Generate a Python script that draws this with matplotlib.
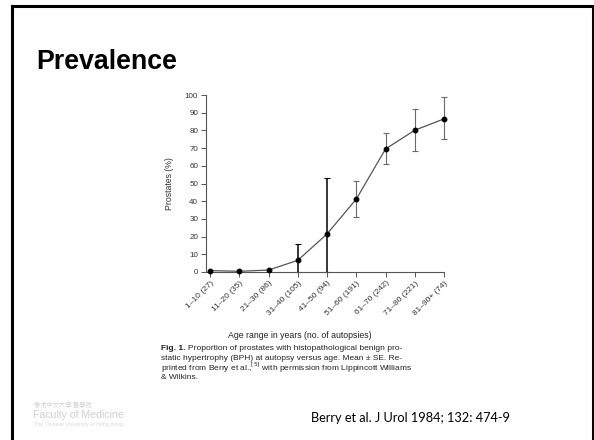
import matplotlib
matplotlib.use("Agg")
import matplotlib.pyplot as plt
import numpy as np

# values
age_groups = ["1\u201310 (27)", "11\u201320 (35)", "21\u201330 (86)", "31\u201340 (105)",
              "41\u201350 (94)", "51\u201360 (191)", "61\u201370 (242)", "71\u201380 (221)",
              "81\u201390+ (74)"]
prevalence = [0.8, 0.4, 1.1, 6.6, 21.5, 41.2, 69.5, 80.1, 86.5]
# error bar ends (nan = no bar)
err_high = [np.nan, np.nan, np.nan, 16, 53, 51.5, 78.5, 92, 99]
err_low = [np.nan, np.nan, np.nan, 0, 0, 31, 61, 68.4, 75]
dark_bars = [3, 4]      # drawn black, reaching the axis
grey_bars = [5, 6, 7, 8]

caption_first = "Proportion of prostates with histopathological benign pro-"
caption = [
    "static hypertrophy (BPH) at autopsy versus age. Mean \u00b1 SE. Re-",
    "printed from Berry et al.,$^{[5]}$ with permission from Lippincott Williams",
    "& Wilkins.",
]

fig = plt.figure(figsize=(5.94, 4.40), dpi=100)
fig.patch.set_facecolor("white")

# slide frame
fig.add_artist(plt.Line2D([12/594, 12/594], [0, 1 - 6/440], color="black", lw=2.2, transform=fig.transFigure))
fig.add_artist(plt.Line2D([12/594, 593/594], [1 - 6/440, 1 - 6/440], color="black", lw=2.2, transform=fig.transFigure))
fig.add_artist(plt.Line2D([593/594, 593/594], [0, 1 - 6/440], color="black", lw=2.2, transform=fig.transFigure))

fig.text(36/594, 1 - 62/440, "Prevalence", fontsize=19.3, fontweight="bold",
         family="Liberation Sans", va="center", ha="left")

ax = fig.add_axes([205.7/594, 168/440, 238.3/594, 177/440])
x = np.arange(len(prevalence))
vals = np.array(prevalence)
hi = np.array(err_high)
lo = np.array(err_low)

for idx, col, lw in [(dark_bars, "black", 1.1), (grey_bars, "#6a6a6a", 0.8)]:
    idx = np.array(idx)
    eb = ax.errorbar(x[idx], vals[idx], yerr=[vals[idx] - lo[idx], hi[idx] - vals[idx]],
                     fmt="none", ecolor=col, elinewidth=lw, capsize=2.5, capthick=0.8)
    for art in eb.lines[1] + eb.lines[2]:
        art.set_clip_on(False)

ax.plot(x, prevalence, color="#555555", lw=0.9, marker="o", markersize=3.2,
        markerfacecolor="black", markeredgecolor="black", zorder=3, clip_on=False)

ax.set_xlim(-0.15, 8.0)
ax.set_ylim(0, 100)
ax.set_yticks(range(0, 101, 10))
ax.set_xticks(x)
ax.set_xticklabels(age_groups, rotation=45, ha="right", rotation_mode="anchor",
                   fontsize=6.0, color="#333333", family="Liberation Sans")
for lab in ax.get_yticklabels():
    lab.set_fontsize(5.8)
    lab.set_color("#333333")
    lab.set_family("Liberation Sans")
ax.tick_params(axis="both", length=3.5, width=0.7, color="#555555", pad=2)
ax.spines["top"].set_visible(False)
ax.spines["right"].set_visible(False)
for s in ["left", "bottom"]:
    ax.spines[s].set_color("#555555")
    ax.spines[s].set_linewidth(0.8)
ax.set_ylabel("Prostates (%)", fontsize=6.3, color="#333333", family="Liberation Sans", labelpad=8)

fig.text(300/594, 1 - 335/440, "Age range in years (no. of autopsies)", fontsize=6.3,
         color="#222222", family="Liberation Sans", ha="center", va="center")

fig_lbl = fig.text(161/594, 1 - 348/440, "Fig. 1.", fontsize=6.0, fontweight="bold",
                   color="#222222", family="Liberation Sans", ha="left", va="center")
fig.canvas.draw()
bb = fig_lbl.get_window_extent().transformed(fig.transFigure.inverted())
fig.text(bb.x1 + 3/594, 1 - 348/440, caption_first, fontsize=6.0, color="#222222",
         family="Liberation Sans", ha="left", va="center")
for i, line in enumerate(caption):
    fig.text(161/594, 1 - (358.5 + 9.7 * i)/440, line, fontsize=6.0, color="#222222",
             family="Liberation Sans", ha="left", va="center")

fig.text(311/594, 1 - 418/440, "Berry et al. J Urol 1984; 132: 474-9", fontsize=9.2,
         family="Lato", ha="left", va="center", color="black")

# faculty logo, very faint
fig.text(34/594, 1 - 405/440, "\u9999\u6e2f\u4e2d\u6587\u5927\u5b78 \u91ab\u5b78\u9662",
         fontsize=4.5, family=["Noto Sans CJK TC", "DejaVu Sans"], color="#d4d4d4", va="center")
fig.text(33/594, 1 - 415/440, "Faculty of Medicine", fontsize=7.6, family="Liberation Sans",
         color="#cfcfcf", va="center")
fig.text(34/594, 1 - 424/440, "The Chinese University of Hong Kong", fontsize=3.8,
         family="Liberation Sans", color="#d8d8d8", va="center")

fig.savefig("out.png", dpi=100, facecolor="white")
